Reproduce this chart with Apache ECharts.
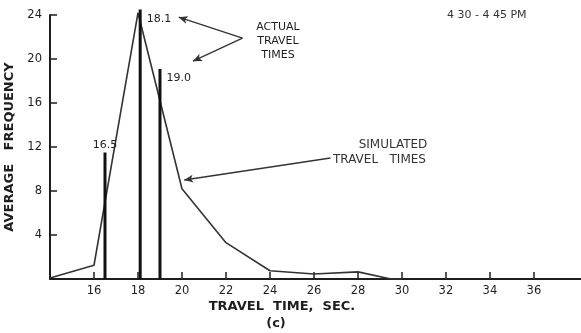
<!DOCTYPE html>
<html>
<head>
<meta charset="utf-8">
<script src="https://cdn.jsdelivr.net/npm/echarts@6/dist/echarts.min.js"></script>
<style>
  html, body { margin: 0; padding: 0; background: #fff; }
  #chart { width: 581px; height: 333px; }
</style>
</head>
<body>
<div id="chart"></div>
<script>
// Simulated travel-time distribution: [travel time (s), average frequency]
const simulated = [
  [14, 0.1], [16, 1.25], [18, 24.2], [20, 8.2], [22, 3.3],
  [24, 0.75], [26, 0.45], [28, 0.65], [29.5, 0], [30, 0]
];
// Actual (observed) travel times and their heights
const actualTimes = [16.5, 18.1, 19.0];
const actualHeights = [11.5, 24.5, 19.1];
// Axis tick values
const xTicks = [16, 18, 20, 22, 24, 26, 28, 30, 32, 34, 36];
const yTicks = [4, 8, 12, 16, 20, 24];

const ink = '#1e1e1e';
const font = 'DejaVu Sans';

const chart = echarts.init(document.getElementById('chart'), null, { renderer: 'canvas' });

const barData = actualTimes.map((t, i) => ({
  value: [t, actualHeights[i]],
  label: i === 0
    ? { position: 'top', distance: 2 }
    : { position: 'insideTopLeft', offset: [3, -1] }
}));

chart.setOption({
  animation: false,
  backgroundColor: '#fff',
  grid: { left: 50, right: 0, top: 15, bottom: 54, containLabel: false, outerBoundsMode: 'none' },
  xAxis: {
    type: 'value',
    min: 14,
    max: 38.14,
    interval: 2,
    splitLine: { show: false },
    axisLine: { show: true, lineStyle: { color: ink, width: 2 } },
    axisTick: { show: true, inside: true, length: 7, customValues: xTicks, lineStyle: { color: ink, width: 1.5 } },
    axisLabel: {
      customValues: xTicks, color: ink, fontFamily: font, fontSize: 11.5, margin: 6
    }
  },
  yAxis: {
    type: 'value',
    min: 0,
    max: 24,
    interval: 4,
    name: 'AVERAGE   FREQUENCY',
    nameLocation: 'middle',
    nameGap: 27,
    nameRotate: 90,
    nameTextStyle: { color: ink, fontFamily: font, fontSize: 13, fontWeight: 'bold' },
    splitLine: { show: false },
    axisLine: { show: true, lineStyle: { color: ink, width: 2 } },
    axisTick: { show: true, inside: true, length: 7, customValues: yTicks, lineStyle: { color: ink, width: 1.5 } },
    axisLabel: {
      customValues: yTicks, color: ink, fontFamily: font, fontSize: 11.5, margin: 8
    }
  },
  series: [
    {
      name: 'Simulated',
      type: 'line',
      data: simulated,
      symbol: 'none',
      clip: false,
      lineStyle: { color: '#333', width: 1.6 },
      z: 3,
      markLine: {
        silent: true,
        symbol: ['none', 'arrow'],
        symbolSize: [6, 9],
        lineStyle: { color: '#333', width: 1.3, type: 'solid' },
        label: { show: false },
        data: [
          [{ coord: [22.75, 21.9] }, { coord: [19.85, 23.8] }],
          [{ coord: [22.75, 21.9] }, { coord: [20.5, 19.8] }],
          [{ coord: [26.75, 11.0] }, { coord: [20.1, 9.0] }]
        ]
      }
    },
    {
      name: 'Actual',
      type: 'bar',
      data: barData,
      barWidth: 3,
      clip: false,
      itemStyle: { color: '#111' },
      z: 4,
      label: {
        show: true,
        color: ink,
        fontFamily: font,
        fontSize: 11,
        formatter: p => p.value[0].toFixed(1)
      }
    }
  ],
  graphic: [
    { type: 'text', left: 447, top: 10,
      style: { text: '4 30 - 4 45 PM', fill: '#333', font: '11px "DejaVu Sans"' } },
    { type: 'text', x: 278, y: 20,
      style: { text: 'ACTUAL\nTRAVEL\nTIMES', fill: ink, align: 'center', lineHeight: 14,
               font: '11px "DejaVu Sans"' } },
    { type: 'text', x: 393, y: 139,
      style: { text: 'SIMULATED', fill: '#333', align: 'center', font: '12px "DejaVu Sans"' } },
    { type: 'text', x: 333, y: 154,
      style: { text: 'TRAVEL   TIMES', fill: '#333', align: 'left', font: '12px "DejaVu Sans"' } },
    { type: 'text', x: 282, y: 300,
      style: { text: 'TRAVEL  TIME,  SEC.', fill: ink, align: 'center', font: 'bold 13px "DejaVu Sans"' } },
    { type: 'text', x: 276, y: 317,
      style: { text: '(c)', fill: ink, align: 'center', font: 'bold 13px "DejaVu Sans"' } }
  ]
});
</script>
</body>
</html>
